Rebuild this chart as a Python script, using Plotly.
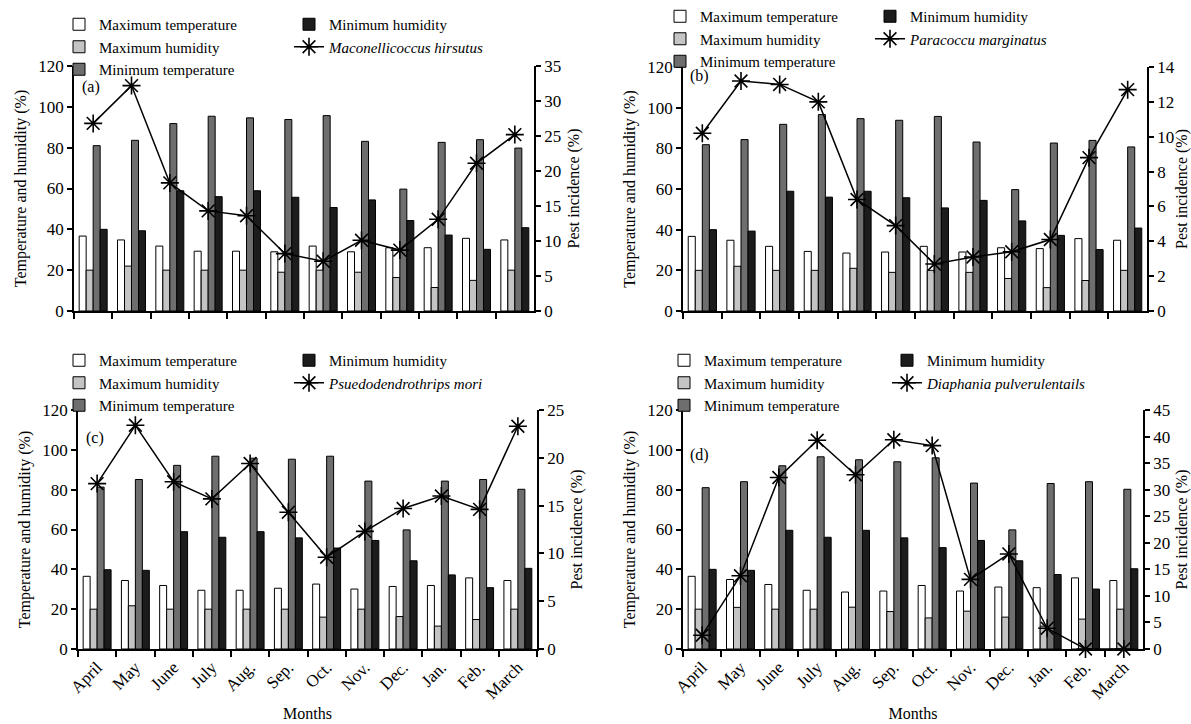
import plotly.graph_objects as go

W, H = 1191, 724

months = ["April", "May", "June", "July", "Aug.", "Sep.", "Oct.", "Nov.", "Dec.", "Jan.", "Feb.", "March"]

# Panel (a)
a_max_temp = [36.7, 34.8, 31.8, 29.3, 29.3, 29.0, 31.8, 29.0, 31.0, 31.0, 35.6, 34.8]
a_max_hum = [20, 22, 20, 20, 20, 19, 20, 19, 16.4, 11.5, 15, 20]
a_min_temp = [81, 83.6, 91.8, 95.4, 94.6, 93.8, 95.7, 83.1, 59.7, 82.6, 83.9, 79.8]
a_min_hum = [40, 39.3, 58.9, 56, 58.9, 55.7, 50.7, 54.4, 44.3, 37.2, 30.2, 40.8]
a_pest = [26.8, 32.2, 18.3, 14.3, 13.6, 8.2, 7.1, 10.1, 8.7, 13.1, 21.1, 25.2]

# Panel (b)
b_max_temp = [36.7, 34.8, 31.8, 29.3, 28.5, 29.0, 31.8, 29.0, 31.1, 30.7, 35.6, 34.8]
b_max_hum = [20, 22, 20, 20, 21, 19, 20, 19, 16, 11.5, 15, 20]
b_min_temp = [81.8, 84.3, 91.8, 96.6, 94.6, 93.8, 95.7, 83.1, 59.7, 82.6, 83.9, 80.7]
b_min_hum = [40, 39.3, 58.9, 56, 58.9, 55.7, 50.7, 54.4, 44.3, 37.2, 30.2, 40.8]
b_pest = [10.2, 13.2, 13.0, 12.0, 6.4, 4.9, 2.7, 3.1, 3.4, 4.1, 8.8, 12.7]

# Panel (c)
c_max_temp = [36.5, 34.4, 31.9, 29.5, 29.5, 30.5, 32.6, 30.1, 31.4, 31.9, 35.7, 34.4]
c_max_hum = [20, 21.7, 20, 20, 20, 20, 16, 20, 16.3, 11.5, 14.8, 20]
c_min_temp = [81.3, 85.1, 92.2, 96.8, 95.8, 95.3, 96.8, 84.3, 59.8, 84.3, 85.1, 80.2]
c_min_hum = [39.8, 39.5, 58.9, 56.1, 58.9, 55.8, 50.7, 54.5, 44.3, 37.2, 30.8, 40.5]
c_pest = [17.3, 23.4, 17.5, 15.7, 19.4, 14.3, 9.6, 12.3, 14.7, 16.0, 14.6, 23.3]

# Panel (d)
d_max_temp = [36.5, 34.9, 32.4, 29.5, 28.6, 29.1, 31.9, 29.1, 31.1, 30.8, 35.7, 34.4]
d_max_hum = [20, 20.9, 20, 20, 21, 18.8, 15.6, 19, 16, 11.5, 15, 20]
d_min_temp = [81, 84, 92, 96.5, 95, 94, 96, 83.3, 59.8, 83.1, 84, 80.2]
d_min_hum = [40, 39.5, 59.6, 56.1, 59.6, 55.8, 50.9, 54.5, 44.3, 37.4, 30.1, 40.3]
d_pest = [2.6, 13.8, 32.3, 39.3, 32.8, 39.4, 38.3, 13.1, 17.9, 3.9, 0, 0]

pest_names = ["Maconellicoccus hirsutus", "Paracoccu marginatus",
              "Psuedodendrothrips mori", "Diaphania pulverulentails"]
panel_labels = ["(a)", "(b)", "(c)", "(d)"]
right_ranges = [35, 14, 25, 45]
right_dticks = [5, 2, 5, 5]

FONT = "Liberation Serif"
COL_WHITE = "#ffffff"
COL_LIGHT = "#c4c4c4"
COL_DARK = "#6e6e6e"
COL_BLACK = "#1c1c1c"

panels = [
    (a_max_temp, a_max_hum, a_min_temp, a_min_hum, a_pest),
    (b_max_temp, b_max_hum, b_min_temp, b_min_hum, b_pest),
    (c_max_temp, c_max_hum, c_min_temp, c_min_hum, c_pest),
    (d_max_temp, d_max_hum, d_min_temp, d_min_hum, d_pest),
]

# pixel boxes of plot areas: (left, right, top, bottom)
boxes = [(74, 534, 66, 311), (683, 1147, 67, 311), (78, 537, 410, 649), (683, 1143, 410, 649)]
# legend placement in pixels: (col1 text x, col2 text x, first row center y)
leg_pos = [(100, 330, 24), (701, 911, 16), (100, 330, 360), (705, 928, 360)]
label_pos = [(80, 87), (688, 76), (84, 438), (688, 455)]


def px(x):
    return x / W


def py(y):
    return 1 - y / H


fig = go.Figure()
layout = dict(
    width=W, height=H,
    margin=dict(l=0, r=0, t=0, b=0),
    template="none",
    paper_bgcolor="white", plot_bgcolor="rgba(0,0,0,0)",
    barmode="group", bargap=0.27, bargroupgap=0,
    font=dict(family=FONT, size=16, color="black"),
    annotations=[],
)

bar_specs = [("Maximum temperature", COL_WHITE), ("Maximum humidity", COL_LIGHT),
             ("Minimum temperature", COL_DARK), ("Minimum humidity", COL_BLACK)]

for i, vals in enumerate(panels):
    xa = "x" if i == 0 else f"x{i + 1}"
    yl = "y" if i == 0 else f"y{2 * i + 1}"
    yr = f"y{2 * i + 2}"
    leg1 = "legend" if i == 0 else f"legend{2 * i + 1}"
    leg2 = f"legend{2 * i + 2}"
    for j, (name, col) in enumerate(bar_specs):
        fig.add_trace(go.Bar(
            x=months, y=vals[j], name=name, xaxis=xa, yaxis=yl,
            marker=dict(color=col, line=dict(color="black", width=1)),
            legend=leg1 if j < 3 else leg2, showlegend=True,
        ))
    fig.add_trace(go.Scatter(
        x=months, y=vals[4], name=f"<i>{pest_names[i]}</i>", xaxis=xa, yaxis=yr,
        mode="lines+markers", cliponaxis=False,
        line=dict(color="black", width=1.5),
        marker=dict(symbol="asterisk-open", size=15, color="black",
                    line=dict(color="black", width=1.6)),
        legend=leg2,
    ))

    l, r, t, b = boxes[i]
    bottom_row = i >= 2
    xkey = "xaxis" if i == 0 else f"xaxis{i + 1}"
    ylkey = "yaxis" if i == 0 else f"yaxis{2 * i + 1}"
    yrkey = f"yaxis{2 * i + 2}"
    layout[xkey] = dict(
        domain=[px(l), px(r)], anchor=yl, type="category",
        range=[-0.5, 11.5], tickson="boundaries", ticks="outside", ticklen=6,
        tickwidth=1.5, tickcolor="black",
        showline=True, linecolor="black", linewidth=1.5, showgrid=False, zeroline=False,
        showticklabels=bottom_row, tickangle=-45, tickfont=dict(size=17),
        title=dict(text="Months" if bottom_row else "", font=dict(size=16), standoff=6),
        automargin=False,
    )
    layout[ylkey] = dict(
        domain=[py(b), py(t)], anchor=xa, range=[0, 120], dtick=20,
        ticks="outside", ticklen=5, tickwidth=1.5, tickcolor="black",
        showline=True, linecolor="black", linewidth=1.5, showgrid=False, zeroline=False,
        tickfont=dict(size=17),
        title=dict(text="Temperature and humidity (%)", font=dict(size=16), standoff=8),
        automargin=False,
    )
    layout[yrkey] = dict(
        overlaying=yl, side="right", anchor=xa, range=[0, right_ranges[i]], dtick=right_dticks[i],
        ticks="outside", ticklen=5, tickwidth=1.5, tickcolor="black",
        showline=True, linecolor="black", linewidth=1.5, showgrid=False, zeroline=False,
        tickfont=dict(size=17),
        title=dict(text="Pest incidence (%)", font=dict(size=16), standoff=8),
        automargin=False,
    )
    c1x, c2x, ry = leg_pos[i]
    common = dict(xref="paper", yref="paper", xanchor="left", yanchor="top",
                  bgcolor="rgba(0,0,0,0)", borderwidth=0,
                  font=dict(family=FONT, size=15, color="black"),
                  itemwidth=30, tracegroupgap=0, traceorder="normal")
    layout[leg1] = dict(common, x=px(c1x - 41), y=py(ry - 16))
    layout[leg2] = dict(common, x=px(c2x - 41), y=py(ry - 16))
    lx, ly = label_pos[i]
    layout["annotations"].append(dict(
        text=panel_labels[i], x=px(lx), y=py(ly), xref="paper", yref="paper",
        xanchor="left", yanchor="middle", showarrow=False, font=dict(size=16),
    ))

fig.update_layout(**layout)
fig.write_html("out.html", config={"displayModeBar": False},
               post_script="document.body.style.margin='0px';")
